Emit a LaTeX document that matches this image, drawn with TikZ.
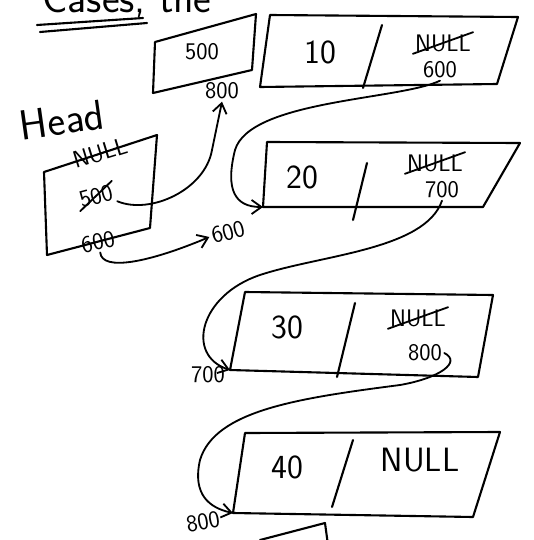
\documentclass[tikz,border=0pt]{standalone}
\usepackage{tikz}
\usetikzlibrary{arrows.meta,shapes.misc}

\begin{document}
\begin{tikzpicture}[x=0.25mm,y=-0.25mm,>={Straight Barb[length=7pt,width=10pt]},
  line width=1.5pt,line cap=round,line join=round,
  cell/.style={font=\sffamily\fontsize{24}{28}\selectfont,inner sep=1pt},
  addr/.style={font=\sffamily\fontsize{17}{20}\selectfont,inner sep=1pt},
  struck/.style={strike out,draw,line width=1.3pt},
  ptr/.style={->,line width=1.3pt}]
\useasboundingbox (0,0) rectangle (533,540);
\clip (0,0) rectangle (533,540);

% heading line, cut off by the page edge
\node[cell,font=\sffamily\fontsize{30}{34}\selectfont,anchor=base west] (title) at (40,12) {Cases, the};
\draw (37,25) -- (143,18) (40,32) -- (147,23);

% the four list nodes: data | next
\foreach \i/\a/\b/\c/\d/\e/\f in {
  1/{270,15}/{518,17}/{497,84}/{260,87}/{382,25}/{363,88},
  2/{267,142}/{520,143}/{483,207}/{263,207}/{367,163}/{353,220},
  3/{245,292}/{493,295}/{478,377}/{230,370}/{355,303}/{337,377},
  4/{245,433}/{500,432}/{473,517}/{233,513}/{353,440}/{332,507}}{
  \draw (\a) -- (\b) -- (\c) -- (\d) coordinate (n\i bl) -- cycle;
  \draw (\e) -- (\f);
}
\node[cell] (n1data) at (320,52) {10};
\node[addr,struck] (n1null) at (443,43) {NULL};
\node[addr] (n1next) at (440,70) {600};
\node[cell] (n2data) at (302,177) {20};
\node[addr,struck] (n2null) at (435,163) {NULL};
\node[addr] (n2next) at (442,190) {700};
\node[cell] (n3data) at (287,327) {30};
\node[addr,struck] (n3null) at (418,318) {NULL};
\node[addr] (n3next) at (425,353) {800};
\node[cell] (n4data) at (287,467) {40};
\node[cell] (n4null) at (420,460) {NULL};

% addresses written beside the nodes
\node[addr,rotate=15] (a600) at (228,232) {600};
\node[addr] (a700) at (208,375) {700};
\node[addr,rotate=10] (a800) at (203,522) {800};

% small box above the head
\draw (155,42) -- (256,14) -- (252,70) -- (153,93) -- cycle;
\node[addr] (top500) at (202,52) {500};
\node[addr] (top800) at (222,91) {800};

% head pointer box
\node[cell,font=\sffamily\fontsize{30}{34}\selectfont,rotate=8] (head) at (62,120) {Head};
\draw (44,172) -- (157,135) -- (150,228) -- (47,255) -- cycle;
\node[addr,rotate=17] (hnull) at (100,153) {NULL};
\node[addr,struck,rotate=15] (h500) at (96,196) {500};
\node[addr,rotate=12] (h600) at (98,242) {600};

% links
\draw[ptr] (h500.south east) .. controls (150,215) and (205,190) .. (212,150) -- (top800.south);
\draw[ptr] (h600.south) .. controls (102,272) and (150,262) .. (a600.west);
\draw[ptr] (n1next.south) .. controls (400,100) and (250,100) .. (235,150)
  .. controls (225,190) and (235,207) .. (n2bl);
\draw[ptr] (n2next.south) .. controls (425,250) and (320,255) .. (260,275)
  .. controls (200,295) and (185,355) .. (n3bl);
\draw[ptr] (n3next.east) .. controls (462,362) and (440,378) .. (400,385)
  .. controls (300,398) and (215,410) .. (200,460)
  .. controls (192,495) and (210,508) .. (n4bl);

% next box below, cut off
\draw (260,540) -- (325,523) -- (328,545);
\end{tikzpicture}
\end{document}
